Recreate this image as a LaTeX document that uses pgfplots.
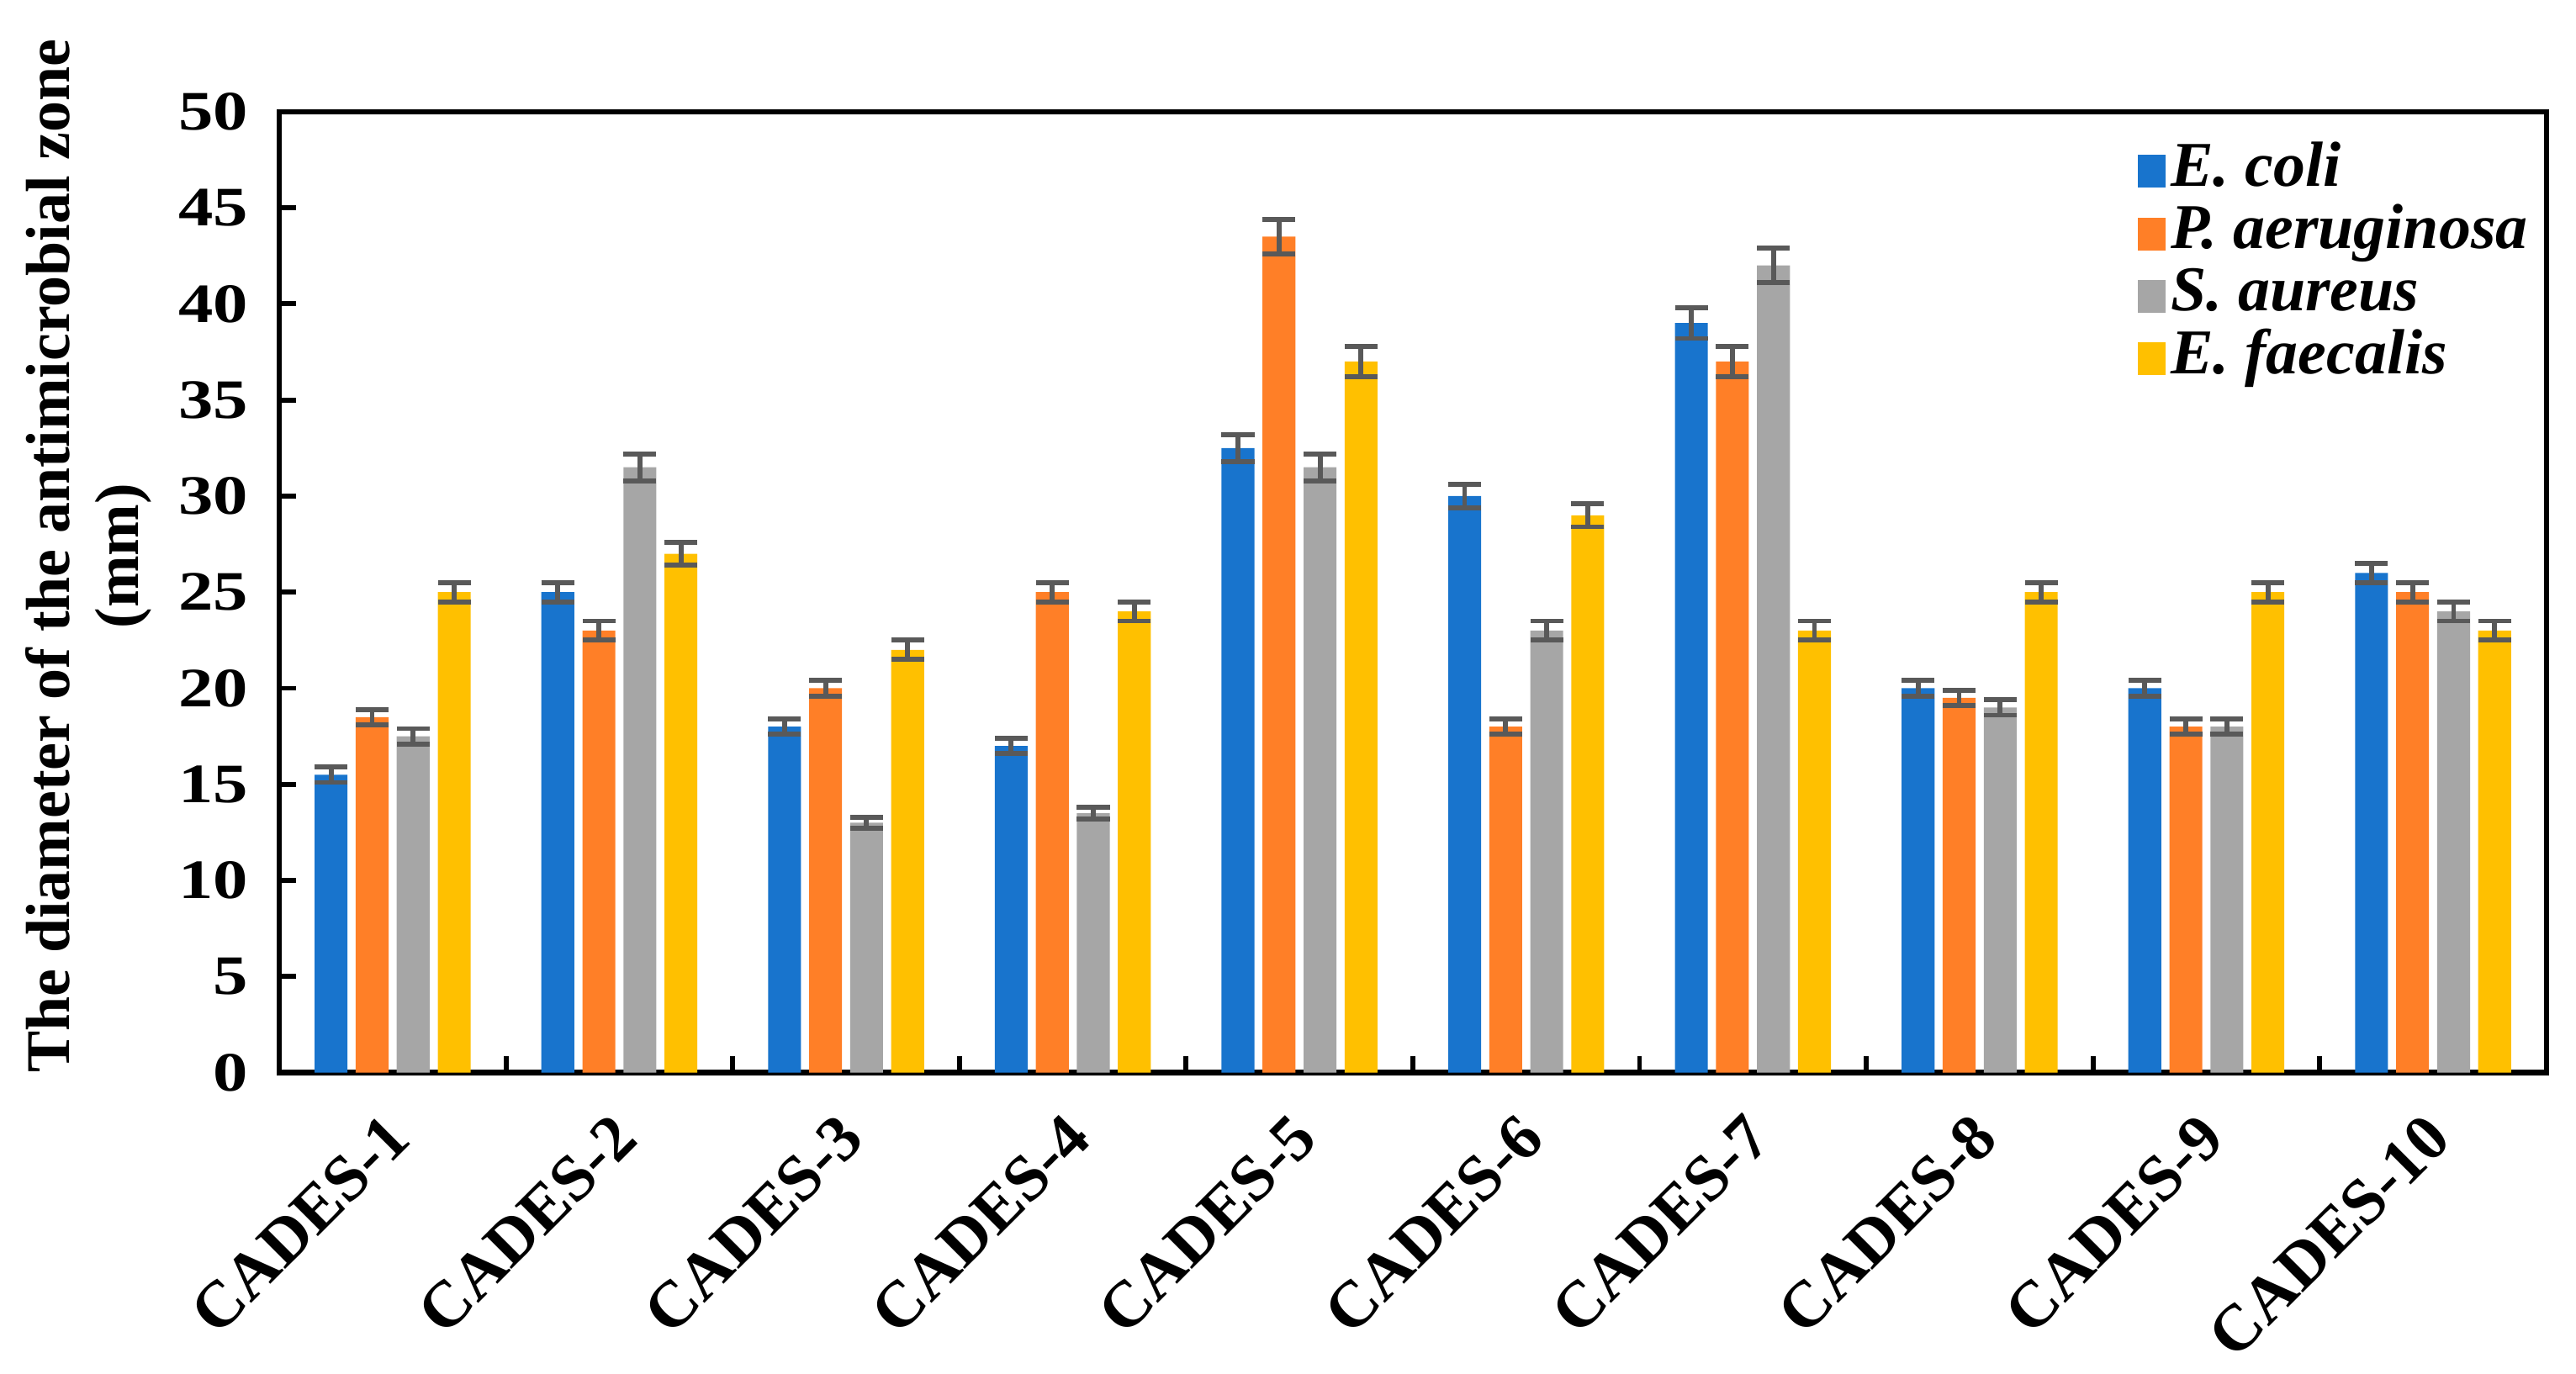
\documentclass[border=0pt]{standalone}
\usepackage{pgfplots}
\pgfplotsset{compat=1.18}
\usepackage{pgfplotstable}
\usepackage{fontspec}
\setmainfont{Liberation Serif}
\definecolor{cblue}{RGB}{24,116,205}
\definecolor{corange}{RGB}{255,127,39}
\definecolor{cgray}{RGB}{166,166,166}
\definecolor{cyellow}{RGB}{255,192,0}
\definecolor{errgray}{RGB}{89,89,89}

\pgfplotstableread{
x ec ecE pa paE sa saE ef efE
0 15.5 0.4 18.5 0.4 17.5 0.4 25.0 0.5
1 25.0 0.5 23.0 0.5 31.5 0.7 27.0 0.6
2 18.0 0.4 20.0 0.4 13.0 0.3 22.0 0.5
3 17.0 0.4 25.0 0.5 13.5 0.3 24.0 0.5
4 32.5 0.7 43.5 0.9 31.5 0.7 37.0 0.8
5 30.0 0.6 18.0 0.4 23.0 0.5 29.0 0.6
6 39.0 0.8 37.0 0.8 42.0 0.9 23.0 0.5
7 20.0 0.4 19.5 0.4 19.0 0.4 25.0 0.5
8 20.0 0.4 18.0 0.4 18.0 0.4 25.0 0.5
9 26.0 0.5 25.0 0.5 24.0 0.5 23.0 0.5
}\datatable

\begin{document}
\begin{tikzpicture}
\path[use as bounding box] (0,0) rectangle (784bp,418bp);
\begin{axis}[
  at={(85bp,91.5bp)}, anchor=south west,
  scale only axis, width=690bp, height=292.5bp,
  xmin=-0.5, xmax=9.5, ymin=0, ymax=50,
  ybar, bar width=0.145,
  axis line style={line width=1.7bp},
  tick align=inside,
  xtick pos=bottom, ytick pos=left,
  ytick={0,5,...,50},
  major tick length=5bp,
  every tick/.style={black, line width=1.5bp},
  /pgf/number format/assume math mode=true,
  yticklabel={\scalebox{1.25}[1]{\pgfmathprintnumber{\tick}}},
  yticklabel style={font=\fontsize{17}{19}\selectfont\bfseries, xshift=-6bp},
  xtick={0,...,9},
  xticklabels={CADES-1,CADES-2,CADES-3,CADES-4,CADES-5,CADES-6,CADES-7,CADES-8,CADES-9,CADES-10},
  major x tick style={draw=none},
  xticklabel style={font=\fontsize{20}{22}\selectfont\bfseries, rotate=45, anchor=north east, xshift=-7bp, yshift=-2.6bp},
  extra x ticks={0.5,1.5,...,8.5},
  extra x tick labels={},
  extra x tick style={major x tick style={draw=black, line width=1.5bp}},
  ylabel={The diameter of the antimicrobial zone\\(mm)},
  ylabel style={font=\fontsize{19}{21}\selectfont\bfseries, align=center,
    at={([xshift=-58bp,yshift=11bp]axis description cs:0,0.5)}, anchor=center},
  legend style={at={(1,1)}, anchor=north east, xshift=-1bp, yshift=-7bp,
    draw=none, fill=none, row sep=1bp,
    font=\fontsize{19.5}{21}\selectfont\bfseries\itshape,
    nodes={inner sep=1.5bp, text height=12bp, text depth=3bp}},
  legend cell align=left,
  legend image code/.code={\fill[#1] (0bp,-5bp) rectangle (8.5bp,5bp);},
  error bars/y dir=both, error bars/y explicit,
  error bars/error bar style={color=errgray, line width=1.5bp},
  error bars/error mark options={rotate=90, mark size=5bp, line width=1.5bp, color=errgray},
]
\addplot[fill=cblue, draw=none, bar shift=-0.2715] table[x=x, y=ec, y error=ecE]{\datatable};
\addplot[fill=corange, draw=none, bar shift=-0.0905] table[x=x, y=pa, y error=paE]{\datatable};
\addplot[fill=cgray, draw=none, bar shift=0.0905] table[x=x, y=sa, y error=saE]{\datatable};
\addplot[fill=cyellow, draw=none, bar shift=0.2715] table[x=x, y=ef, y error=efE]{\datatable};
\legend{E. coli, P. aeruginosa, S. aureus, E. faecalis}
\end{axis}
\end{tikzpicture}
\end{document}
